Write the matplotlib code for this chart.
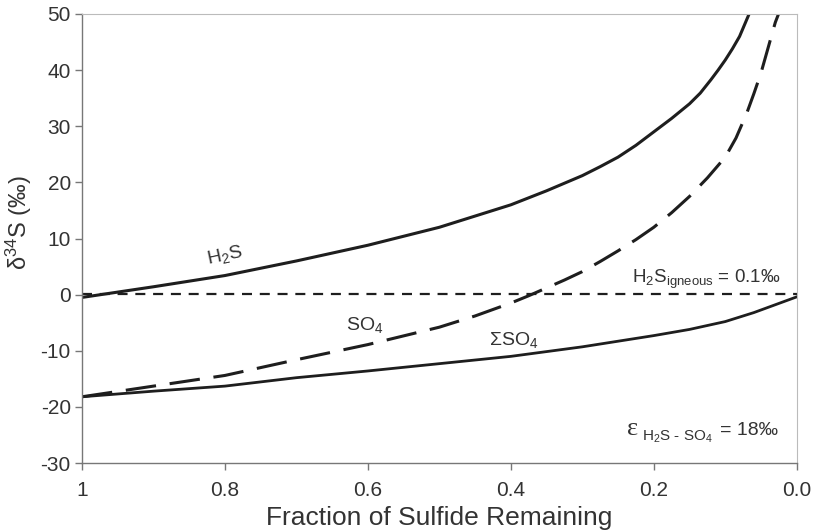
import matplotlib.pyplot as plt

plt.rcParams['font.family'] = ['Liberation Sans', 'DejaVu Sans']
plt.rcParams['mathtext.fontset'] = 'custom'
plt.rcParams['mathtext.rm'] = 'Liberation Sans'
plt.rcParams['mathtext.it'] = 'Liberation Sans:italic'
plt.rcParams['mathtext.bf'] = 'Liberation Sans:bold'
plt.rcParams['axes.unicode_minus'] = False

# fraction of sulfide remaining vs. delta34S (permil)
h2s_f = [1.0, 0.9, 0.8, 0.7, 0.6, 0.5, 0.4, 0.35, 0.3, 0.275, 0.25, 0.225, 0.2,
         0.175, 0.15, 0.135, 0.12, 0.11, 0.1, 0.09, 0.08, 0.07, 0.065]
h2s_d = [-0.5, 1.4, 3.4, 6.0, 8.8, 12.0, 16.0, 18.5, 21.2, 22.8, 24.5, 26.6, 29.0,
         31.4, 34.0, 35.9, 38.3, 40.0, 41.8, 43.8, 46.0, 49.0, 50.5]

so4_f = [1.0, 0.9, 0.8, 0.7, 0.6, 0.5, 0.45, 0.4, 0.375, 0.35, 0.325, 0.3, 0.275,
         0.25, 0.225, 0.2, 0.175, 0.15, 0.125, 0.1, 0.085, 0.07, 0.06, 0.05, 0.04,
         0.03, 0.024]
so4_d = [-18.2, -16.3, -14.4, -11.6, -8.9, -5.8, -3.8, -1.5, -0.2, 1.2, 2.6, 4.1, 5.9,
         7.8, 9.8, 12.0, 14.6, 17.5, 20.8, 24.5, 27.9, 32.3, 35.8, 39.5, 44.0,
         48.5, 50.5]

sum_f = [1.0, 0.9, 0.8, 0.7, 0.6, 0.5, 0.4, 0.3, 0.2, 0.15, 0.1, 0.08, 0.06, 0.045,
         0.03, 0.015, 0.0]
sum_d = [-18.2, -17.2, -16.3, -14.8, -13.6, -12.3, -11.0, -9.3, -7.3, -6.2, -4.8,
         -4.0, -3.2, -2.5, -1.8, -1.1, -0.4]

igneous = 0.1
x_ticks = [1.0, 0.8, 0.6, 0.4, 0.2, 0.0]
x_labels = ['1', '0.8', '0.6', '0.4', '0.2', '0.0']
y_ticks = [-30, -20, -10, 0, 10, 20, 30, 40, 50]

ink = '#1e1e1e'
txt = '#333333'

fig = plt.figure(figsize=(8.14, 5.30), dpi=100)
ax = fig.add_axes([0.1007, 0.1264, 0.8781, 0.8472])

ax.plot(h2s_f, h2s_d, color=ink, lw=2.2, solid_joinstyle='round')
ax.plot(so4_f, so4_d, color=ink, lw=2.2, dashes=(10, 4.5))
ax.plot(sum_f, sum_d, color=ink, lw=2.0, solid_joinstyle='round')
ax.plot([1.0, 0.0], [igneous, igneous], color=ink, lw=1.6, dashes=(4.5, 3.5))

ax.set_xlim(1.0, 0.0)
ax.set_ylim(-30, 50)
ax.set_xticks(x_ticks)
ax.set_xticklabels(x_labels)
ax.set_yticks(y_ticks)

for s in ['left', 'bottom']:
    ax.spines[s].set_color('#777777')
    ax.spines[s].set_linewidth(1.0)
for s in ['top', 'right']:
    ax.spines[s].set_color('#bbbbbb')
    ax.spines[s].set_linewidth(0.8)
ax.tick_params(direction='out', length=5, width=1.0, color='#777777',
               labelsize=15, labelcolor=txt)
ax.tick_params(axis='x', pad=8)
ax.tick_params(axis='y', pad=3)

ax.set_xlabel('Fraction of Sulfide Remaining', fontsize=19, color=txt, labelpad=4)
ax.set_ylabel(r'$\mathrm{\delta}^{34}$S (‰)', fontsize=17, color=txt)
ax.yaxis.set_label_coords(-0.067, 0.535)

# curve labels
ax.text(0.80, 6.9, r'H$_2$S', fontsize=14, color=txt, rotation=12,
        ha='center', va='center')
ax.text(0.604, -5.4, r'SO$_4$', fontsize=14, color=txt, ha='center', va='center')
ax.text(0.396, -8.1, r'$\Sigma$SO$_4$', fontsize=14, color=txt, ha='center', va='center')
ax.text(0.0234, 2.0, r'H$_2$S$_{\mathrm{igneous}}$ = 0.1‰', fontsize=13.5, color=txt,
        ha='right', va='baseline')

# fractionation factor, built from three pieces
ax.text(0.2374, -25.0, 'ε', fontsize=19, color=txt, family=['Liberation Serif', 'DejaVu Serif'],
        ha='left', va='baseline')
ax.text(0.2165, -26.0, r'H$_2$S - SO$_4$', fontsize=11, color=txt,
        ha='left', va='baseline')
ax.text(0.108, -25.0, '= 18‰', fontsize=14, color=txt, ha='left', va='baseline')

fig.savefig('out.png', dpi=100)
